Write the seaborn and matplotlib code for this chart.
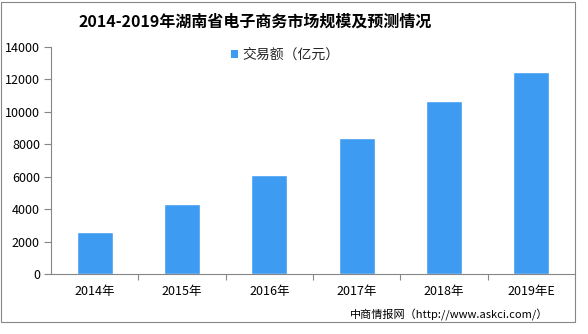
import matplotlib
matplotlib.use("Agg")
import matplotlib.pyplot as plt
import seaborn as sns
import pandas as pd
from matplotlib.patches import Patch, Rectangle

years = ["2014年", "2015年", "2016年", "2017年", "2018年", "2019年E"]
values = [2600, 4320, 6110, 8380, 10660, 12440]
y_ticks = [0, 2000, 4000, 6000, 8000, 10000, 12000, 14000]
title = "2014-2019年湖南省电子商务市场规模及预测情况"
series_name = "交易额（亿元）"
source = "中商情报网（http://www.askci.com/）"

sns.set_theme(style="white")
plt.rcParams['font.family'] = ['Noto Sans CJK SC', 'DejaVu Sans']

df = pd.DataFrame({"year": years, "value": values})
bar_color = "#3d9bf2"

fig = plt.figure(figsize=(5.88, 3.34), dpi=100)
ax = fig.add_axes([51/588, 1-274.3/334, (575-51)/588, (274.3-46.7)/334])

sns.barplot(data=df, x="year", y="value", color=bar_color, width=0.41,
            saturation=1, ax=ax)

ax.set_ylim(0, 14000)
ax.set_yticks(y_ticks)
ax.set_yticklabels([str(v) for v in y_ticks], fontsize=9, color="#000000")
ax.set_xlabel("")
ax.set_ylabel("")
ax.set_xticks(range(len(years)))
ax.set_xticklabels(years, fontsize=9, color="#000000")
ax.set_xlim(-0.5, len(years) - 0.5)

for s in ["top", "right"]:
    ax.spines[s].set_visible(False)
for s in ["left", "bottom"]:
    ax.spines[s].set_color("#868686")
    ax.spines[s].set_linewidth(0.8)
ax.tick_params(axis="y", which="major", length=5, width=0.8, color="#868686",
               left=True, pad=3)
ax.tick_params(axis="x", which="major", length=0, pad=8)
# category separator ticks
ax.set_xticks([i + 0.5 for i in range(len(years) - 1)], minor=True)
ax.tick_params(axis="x", which="minor", length=4, width=0.8, color="#868686",
               bottom=True, direction="out")
ax.set_facecolor("none")

handle = Patch(facecolor=bar_color, edgecolor="none")
ax.legend([handle], [series_name], loc="center", bbox_to_anchor=(285/588, 1-55/334),
          bbox_transform=fig.transFigure, frameon=False, fontsize=10,
          handlelength=0.55, handleheight=0.55, handletextpad=0.3, borderpad=0)

fig.text(255/588, 1-22/334, title, ha="center", va="center", fontsize=11.5,
         fontweight="bold", color="#000000")
fig.text(548/588, 1-315/334, source, ha="right", va="center", fontsize=8,
         color="#000000")

# outer frame
fig.add_artist(Rectangle((1/588, 1-322/334), (575-1)/588, (322-2)/334,
                         transform=fig.transFigure, fill=False,
                         edgecolor="#868686", linewidth=0.8))

fig.savefig("out.png", dpi=100)
